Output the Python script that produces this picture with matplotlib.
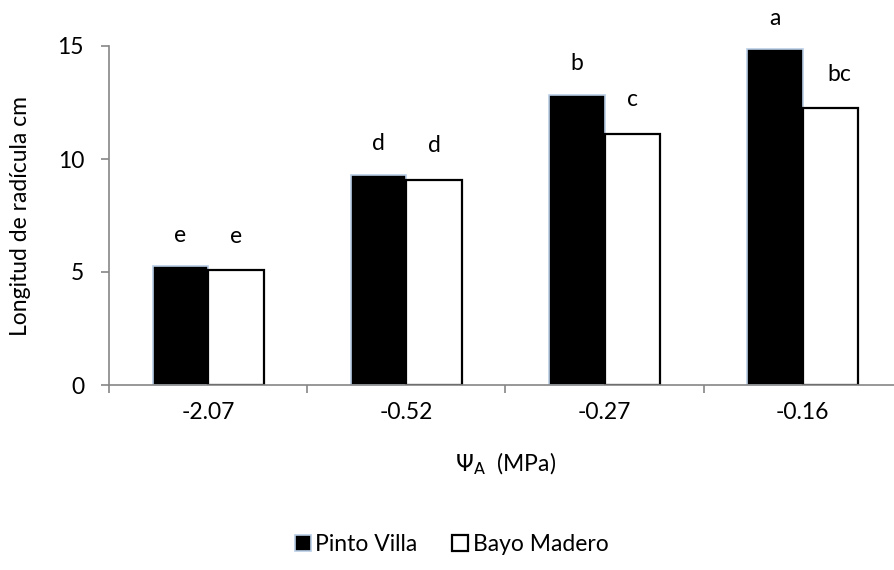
import matplotlib
matplotlib.use("Agg")
import matplotlib.pyplot as plt
import numpy as np

# data
categories = ["-2.07", "-0.52", "-0.27", "-0.16"]
pinto_villa = [5.25, 9.28, 12.85, 14.85]
bayo_madero = [5.08, 9.07, 11.12, 12.25]
letters_pv = ["e", "d", "b", "a"]
letters_bm = ["e", "d", "c", "bc"]

plt.rcParams["font.family"] = ["Lato", "DejaVu Sans"]
plt.rcParams["mathtext.fontset"] = "dejavusans"
fs = 16.5

fig = plt.figure(figsize=(8.94, 5.70), dpi=100)
ax = fig.add_axes([109 / 894, 1 - 385 / 570, 793 / 894, 339 / 570])

x = np.arange(len(categories))
w = 0.28
ax.bar(x - w / 2, pinto_villa, w, color="black", edgecolor="#b9cde5",
       linewidth=1.2, label="Pinto Villa")
ax.bar(x + w / 2, bayo_madero, w, color="white", edgecolor="black",
       linewidth=1.6, label="Bayo Madero")

for xi, v, t in zip(x - w / 2, pinto_villa, letters_pv):
    ax.annotate(t, (xi, v), xytext=(0, 15), textcoords="offset points",
                ha="center", va="bottom", fontsize=fs)
for xi, v, t in zip(x + w / 2, bayo_madero, letters_bm):
    ax.annotate(t, (xi, v), xytext=(6 if len(t) > 1 else 0, 17),
                textcoords="offset points", ha="center", va="bottom", fontsize=fs)

ax.set_xlim(-0.5, len(categories) - 0.5)
ax.set_ylim(0, 15)
ax.set_yticks([0, 5, 10, 15])
ax.set_xticks(x)
ax.set_xticklabels(categories)
ax.set_xticks(np.arange(len(categories) + 1) - 0.5, minor=True)
ax.tick_params(axis="x", which="major", length=0, pad=12, labelsize=fs)
ax.tick_params(axis="x", which="minor", length=6, color="#868686", width=1.2)
ax.tick_params(axis="y", length=6, color="#868686", width=1.2, labelsize=fs, pad=12)

for s in ["top", "right"]:
    ax.spines[s].set_visible(False)
for s in ["left", "bottom"]:
    ax.spines[s].set_color("#868686")
    ax.spines[s].set_linewidth(1.2)

ax.set_ylabel("Longitud de radícula cm", fontsize=fs, labelpad=19)
ax.set_xlabel(r"$\Psi_{\mathrm{A}}$  (MPa)", fontsize=fs, labelpad=20)

fig.legend(loc="center", bbox_to_anchor=(0.505, 0.044), ncol=2, frameon=False,
           fontsize=fs, handlelength=0.7, handleheight=0.7, handletextpad=0.2,
           columnspacing=1.5)

fig.savefig("out.png", dpi=100)
